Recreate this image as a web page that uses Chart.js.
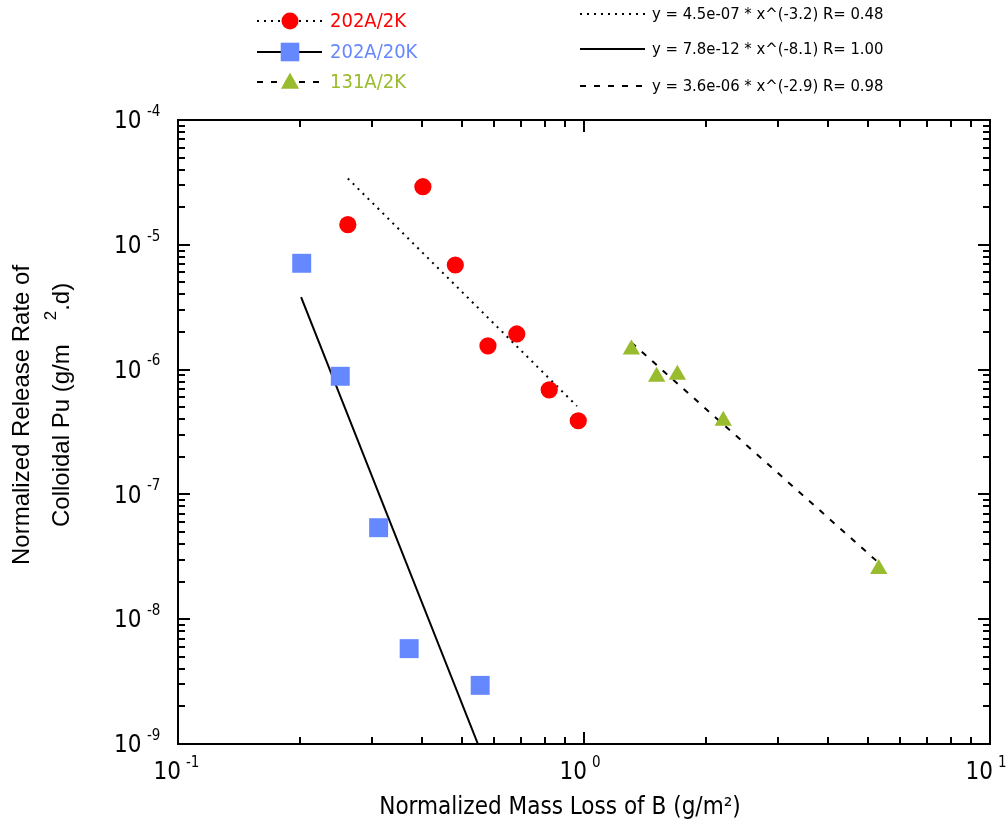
<!DOCTYPE html>
<html><head><meta charset="utf-8">
<script src="https://cdn.jsdelivr.net/npm/chart.js@4/dist/chart.umd.min.js"></script>
<style>html,body{margin:0;padding:0;background:#fff}#wrap{width:1008px;height:825px;position:relative}</style>
</head><body><div id="wrap"><canvas id="c"></canvas></div>
<script>
// ---- data ----
const seriesNames = ['202A/2K', '202A/20K', '131A/2K'];
const redX = [0.262, 0.401, 0.482, 0.580, 0.683, 0.821, 0.968];
const redY = [1.45e-5, 2.92e-5, 6.89e-6, 1.55e-6, 1.93e-6, 6.87e-7, 3.89e-7];
const blueX = [0.2017, 0.251, 0.312, 0.371, 0.555];
const blueY = [7.11e-6, 8.84e-7, 5.41e-8, 5.81e-9, 2.95e-9];
const greenX = [1.308, 1.51, 1.698, 2.203, 5.32];
const greenY = [1.45e-6, 8.78e-7, 9.11e-7, 3.90e-7, 2.53e-8];
// fit line end points
const fitDotX = [0.262, 0.961];
const fitDotY = [3.4e-5, 5.1e-7];
const fitSolidX = [0.201, 0.548];
const fitSolidY = [3.8e-6, 1.0e-9];
const fitDashX = [1.308, 5.32];
const fitDashY = [1.65e-6, 2.83e-8];
const fitLabels = ['y = 4.5e-07 * x^(-3.2) R= 0.48', 'y = 7.8e-12 * x^(-8.1) R= 1.00', 'y = 3.6e-06 * x^(-2.9) R= 0.98'];
const xDecades = [-1, 0, 1];
const yDecades = [-9, -8, -7, -6, -5, -4];
const xTitle = 'Normalized Mass Loss of B (g/m²)';
const yTitle1 = 'Normalized Release Rate of';
const yTitle2a = 'Colloidal Pu (g/m';
const yTitle2sup = '2';
const yTitle2b = '.d)';

const RED = '#ff0000', BLUE = '#6688ff', GREEN = '#99bb2e';
const GOTHIC = '"DejaVu Sans Condensed", "DejaVu Sans", sans-serif';
const ARIAL = '"Liberation Sans", Arial, sans-serif';

const pts = (xs, ys) => xs.map((x, i) => ({x, y: ys[i]}));

function drawMarker(ctx, style, x, y, color, r) {
  ctx.fillStyle = color;
  ctx.beginPath();
  if (style === 'circle') { ctx.arc(x, y, r, 0, Math.PI * 2); }
  else if (style === 'rect') { ctx.rect(x - r, y - r, 2 * r, 2 * r); }
  else { ctx.moveTo(x, y - r); ctx.lineTo(x + r * 0.95, y + r * 0.7); ctx.lineTo(x - r * 0.95, y + r * 0.7); ctx.closePath(); }
  ctx.fill();
}

const decor = {
  id: 'decor',
  afterDatasetsDraw(chart) {
    const ctx = chart.ctx, xs = chart.scales.x, ys = chart.scales.y, a = chart.chartArea;
    ctx.save();
    ctx.strokeStyle = '#000';
    ctx.lineWidth = 2;
    ctx.setLineDash([]);
    ctx.strokeRect(a.left, a.top, a.right - a.left, a.bottom - a.top);
    ctx.beginPath();
    const eps = 1e-9;
    xDecades.forEach(d => {
      for (let k = 1; k <= 9; k++) {
        const v = k * Math.pow(10, d);
        if (v < xs.min * (1 - eps) || v > xs.max * (1 + eps)) continue;
        const px = Math.round(xs.getPixelForValue(v));
        const len = k === 1 ? 12 : 7;
        ctx.moveTo(px, a.bottom); ctx.lineTo(px, a.bottom - len);
        ctx.moveTo(px, a.top); ctx.lineTo(px, a.top + len);
      }
    });
    yDecades.forEach(d => {
      for (let k = 1; k <= 9; k++) {
        const v = k * Math.pow(10, d);
        if (v < ys.min * (1 - eps) || v > ys.max * (1 + eps)) continue;
        const py = Math.round(ys.getPixelForValue(v));
        const len = k === 1 ? 12 : 7;
        ctx.moveTo(a.left, py); ctx.lineTo(a.left + len, py);
        ctx.moveTo(a.right, py); ctx.lineTo(a.right - len, py);
      }
    });
    ctx.stroke();

    // tick labels
    ctx.fillStyle = '#000';
    ctx.textBaseline = 'middle';
    xDecades.forEach(d => {
      const px = xs.getPixelForValue(Math.pow(10, d));
      ctx.font = '24px ' + GOTHIC;
      ctx.textAlign = 'right';
      ctx.fillText('10', px + 3, a.bottom + 29);
      ctx.font = '15px ' + GOTHIC;
      ctx.textAlign = 'left';
      ctx.fillText(String(d), px + 8, a.bottom + 19);
    });
    yDecades.forEach(d => {
      const py = ys.getPixelForValue(Math.pow(10, d));
      ctx.font = '24px ' + GOTHIC;
      ctx.textAlign = 'left';
      ctx.fillText('10', 114, py + 2);
      ctx.font = '15px ' + GOTHIC;
      ctx.fillText(String(d), 147, py - 8);
    });

    // x title
    ctx.font = '24px ' + GOTHIC;
    ctx.textAlign = 'center';
    ctx.fillText(xTitle, 560, 808);

    // y title (rotated)
    ctx.save();
    ctx.translate(22, 565);
    ctx.rotate(-Math.PI / 2);
    ctx.font = '24px ' + ARIAL;
    ctx.textAlign = 'left';
    ctx.fillText(yTitle1, 0, 0);
    ctx.restore();
    ctx.save();
    ctx.translate(62, 527);
    ctx.rotate(-Math.PI / 2);
    ctx.font = '24px ' + ARIAL;
    ctx.textAlign = 'left';
    ctx.fillText(yTitle2a, 0, 0);
    let w = ctx.measureText(yTitle2a).width + 24;
    ctx.font = '17px ' + ARIAL;
    ctx.fillText(yTitle2sup, w, -11);
    w += ctx.measureText(yTitle2sup).width;
    ctx.font = '24px ' + ARIAL;
    ctx.fillText(yTitle2b, w, 0);
    ctx.restore();

    // left legend
    const rows = [21, 52, 82];
    const dashes = [[2, 5], [], [6, 8]];
    const cols = [RED, BLUE, GREEN];
    const styles = ['circle', 'rect', 'triangle'];
    const sizes = [8.5, 9.3, 9.5];
    rows.forEach((ry, i) => {
      ctx.strokeStyle = '#000';
      ctx.lineWidth = 2;
      ctx.setLineDash(dashes[i]);
      ctx.beginPath(); ctx.moveTo(257, ry); ctx.lineTo(322, ry); ctx.stroke();
      ctx.setLineDash([]);
      drawMarker(ctx, styles[i], 290, ry, cols[i], sizes[i]);
      ctx.fillStyle = cols[i];
      ctx.font = '20px ' + GOTHIC;
      ctx.textAlign = 'left';
      ctx.textBaseline = 'middle';
      ctx.fillText(seriesNames[i], 330, ry + 1);
    });
    // right legend
    const rrows = [14, 49, 86];
    rrows.forEach((ry, i) => {
      ctx.strokeStyle = '#000';
      ctx.lineWidth = 2;
      ctx.setLineDash(dashes[i]);
      ctx.beginPath(); ctx.moveTo(580, ry); ctx.lineTo(645, ry); ctx.stroke();
      ctx.setLineDash([]);
      ctx.fillStyle = '#000';
      ctx.font = '16.5px ' + GOTHIC;
      ctx.textAlign = 'left';
      ctx.textBaseline = 'middle';
      ctx.fillText(fitLabels[i], 652, ry + 1);
    });
    ctx.restore();
  }
};

new Chart(document.getElementById('c'), {
  type: 'scatter',
  data: {
    datasets: [
      {label: 'fit 202A/2K', data: pts(fitDotX, fitDotY), showLine: true, borderColor: '#000', borderWidth: 2, borderDash: [2, 5], pointRadius: 0, order: 3},
      {label: 'fit 202A/20K', data: pts(fitSolidX, fitSolidY), showLine: true, borderColor: '#000', borderWidth: 2, pointRadius: 0, order: 3},
      {label: 'fit 131A/2K', data: pts(fitDashX, fitDashY), showLine: true, borderColor: '#000', borderWidth: 2, borderDash: [6, 8], pointRadius: 0, order: 3},
      {label: seriesNames[0], data: pts(redX, redY), pointStyle: 'circle', pointRadius: 8.6, backgroundColor: RED, borderColor: RED, pointBorderWidth: 0, order: 1},
      {label: seriesNames[1], data: pts(blueX, blueY), pointStyle: 'rect', pointRadius: 13.4, backgroundColor: BLUE, borderColor: BLUE, pointBorderWidth: 0, order: 1},
      {label: seriesNames[2], data: pts(greenX, greenY), pointStyle: 'triangle', pointRadius: 10, backgroundColor: GREEN, borderColor: GREEN, pointBorderWidth: 0, order: 1}
    ]
  },
  options: {
    responsive: true,
    maintainAspectRatio: false,
    animation: false,
    layout: {padding: {left: 178, right: 18, top: 120, bottom: 81}},
    plugins: {legend: {display: false}, tooltip: {enabled: false}},
    scales: {
      x: {type: 'logarithmic', min: 0.1, max: 10, display: false},
      y: {type: 'logarithmic', min: 1e-9, max: 1e-4, display: false}
    }
  },
  plugins: [decor]
});
</script>
</body></html>
